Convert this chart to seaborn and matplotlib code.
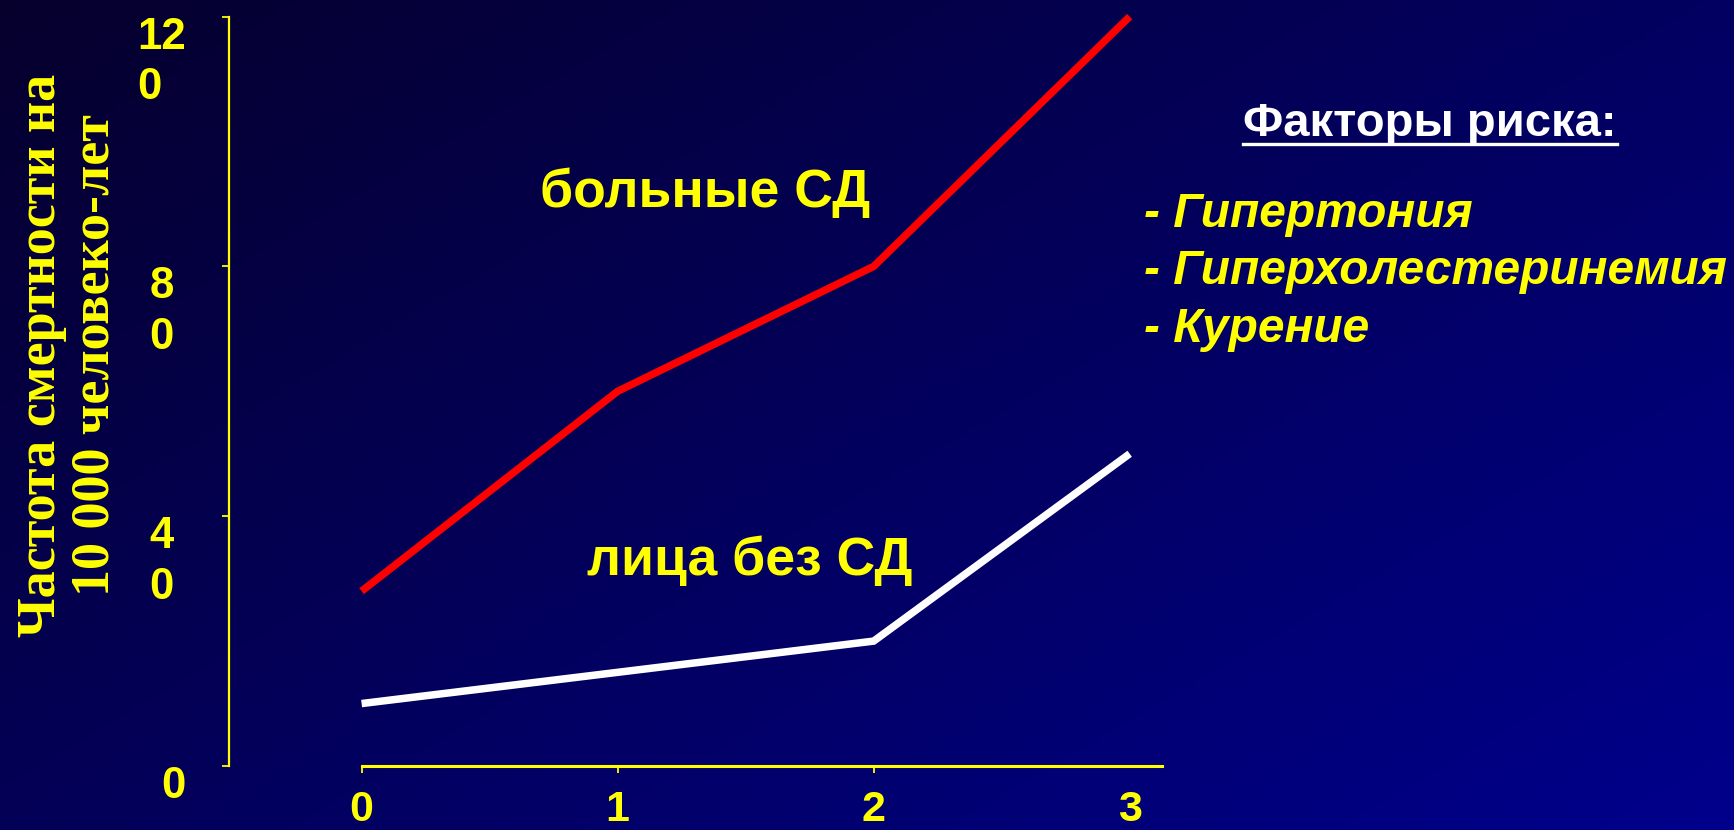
import numpy as np
import pandas as pd
import matplotlib
matplotlib.use("Agg")
import matplotlib.pyplot as plt
from matplotlib.lines import Line2D
import seaborn as sns

# ---- data ----
risk_factors_count = [0, 1, 2, 3]
diabetic = [28, 60, 80, 120]
non_diabetic = [10, 15, 20, 50]
y_ticks = [0, 40, 80, 120]
y_tick_labels = ["0", "4\n0", "8\n0", "12\n0"]
x_tick_labels = ["0", "1", "2", "3"]
series_names = ["больные СД", "лица без СД"]
y_label = "Частота смертности на\n10 000 человеко-лет"
legend_title = "Факторы риска:"
legend_items = ["- Гипертония", "- Гиперхолестеринемия", "- Курение"]

YELLOW = "#ffff00"
SANS = "Liberation Sans"
SERIF = "Liberation Serif"

df = pd.DataFrame({
    "x": risk_factors_count * 2,
    "y": diabetic + non_diabetic,
    "group": [series_names[0]] * 4 + [series_names[1]] * 4,
})

W, H = 1734, 830
fig = plt.figure(figsize=(W / 100, H / 100), dpi=100)

# background gradient
bg = fig.add_axes([0, 0, 1, 1], zorder=-10)
u = np.linspace(0, 1, 400)[None, :]
v = np.linspace(0, 1, 200)[:, None]
t = np.clip(0.55 * u + 0.45 * v, 0, 1)
c0 = np.array([6, 0, 44]) / 255.0
c1 = np.array([0, 0, 140]) / 255.0
img = c0[None, None, :] * (1 - t[..., None]) + c1[None, None, :] * t[..., None]
bg.imshow(img, aspect="auto", extent=[0, 1, 0, 1], origin="upper")
bg.set_axis_off()

ax = fig.add_axes([229 / W, 64 / H, (1257.7 - 229) / W, (766 - 16.6) / H])
ax.set_facecolor("none")

sns.lineplot(data=df, x="x", y="y", hue="group",
             palette={series_names[0]: "#ff0000", series_names[1]: "#ffffff"},
             linewidth=5.4, legend=False, ax=ax, clip_on=False,
             solid_capstyle="butt", solid_joinstyle="miter")

ax.set_xlim(-0.518, 3.5)
ax.set_ylim(0, 120)

for s in ["top", "right"]:
    ax.spines[s].set_visible(False)
ax.spines["left"].set_color(YELLOW)
ax.spines["left"].set_linewidth(1.6)
ax.spines["left"].set_bounds(0, 120)
ax.spines["bottom"].set_color(YELLOW)
ax.spines["bottom"].set_linewidth(2.2)
ax.spines["bottom"].set_bounds(0, 3.125)

ax.set_xticks(risk_factors_count)
ax.set_xticklabels(x_tick_labels)
ax.set_yticks(y_ticks)
ax.set_yticklabels(y_tick_labels)
ax.set_xlabel("")
ax.set_ylabel("")

ax.tick_params(axis="x", direction="out", length=5, width=1.3, color=YELLOW,
               labelcolor=YELLOW, labelsize=31, pad=12.5)
ax.tick_params(axis="y", direction="out", length=5, width=1.3, color=YELLOW,
               labelcolor=YELLOW, labelsize=31.5, pad=43.5)
for lab in ax.get_xticklabels():
    lab.set_fontfamily(SANS)
    lab.set_fontweight("bold")
for lab in ax.get_yticklabels():
    lab.set_fontfamily(SANS)
    lab.set_fontweight("bold")
    lab.set_horizontalalignment("center")
    lab.set_verticalalignment("top")
    lab.set_multialignment("left")
    lab.set_linespacing(1.3)
ax.get_yticklabels()[0].set_horizontalalignment("left")
ax.yaxis.get_major_ticks()[0].tick1line.set_color("black")
ax.xaxis.get_major_ticks()[3].tick1line.set_visible(False)

# series labels
ax.text(1.341, 89.5, series_names[0], color=YELLOW, fontsize=38.5,
        fontfamily=SANS, fontweight="bold", ha="center", va="baseline")
ax.text(1.517, 30.6, series_names[1], color=YELLOW, fontsize=38.5,
        fontfamily=SANS, fontweight="bold", ha="center", va="baseline")

# y label
fig.text(69 / W, 1 - 355 / H, y_label, rotation=90, color=YELLOW,
         fontsize=39, fontfamily=SERIF, fontweight="bold",
         ha="center", va="center", multialignment="center", linespacing=1.1)

# risk factors block
title = fig.text(1430 / W, 1 - 136 / H, legend_title, color="white",
                 fontsize=34, fontfamily=SANS, fontweight="bold",
                 ha="center", va="baseline")
for item, yb in zip(legend_items, [227, 284.5, 342]):
    fig.text(1144.5 / W, 1 - yb / H, item, color=YELLOW, fontsize=34.5,
             fontfamily=SANS, fontweight="bold", fontstyle="italic",
             ha="left", va="baseline")

fig.canvas.draw()
bb = title.get_window_extent()
uy = (H - 144) / H
fig.add_artist(Line2D([bb.x0 / W, bb.x1 / W], [uy, uy], color="white",
                      linewidth=2.4, transform=fig.transFigure))

fig.savefig("out.png", dpi=100)
